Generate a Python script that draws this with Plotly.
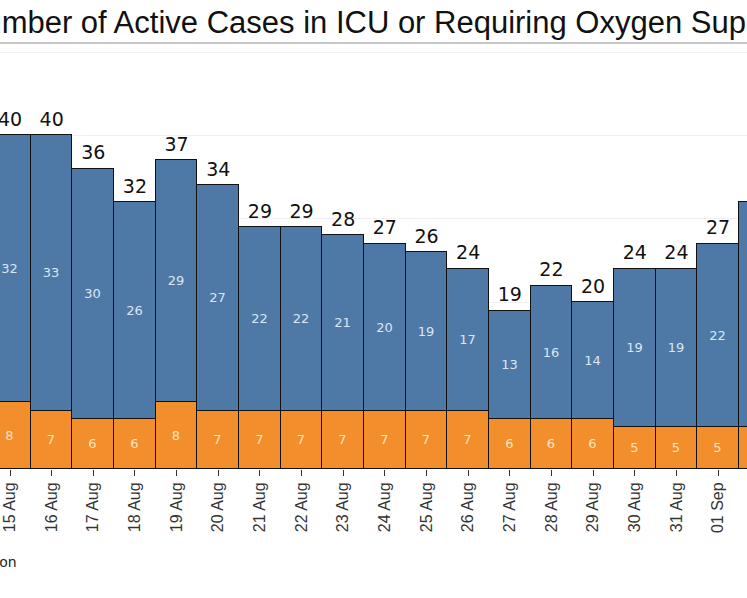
import plotly.graph_objects as go

dates = ["15 Aug", "16 Aug", "17 Aug", "18 Aug", "19 Aug", "20 Aug", "21 Aug", "22 Aug",
         "23 Aug", "24 Aug", "25 Aug", "26 Aug", "27 Aug", "28 Aug", "29 Aug", "30 Aug",
         "31 Aug", "01 Sep", "02 Sep"]
oxygen = [32, 33, 30, 26, 29, 27, 22, 22, 21, 20, 19, 17, 13, 16, 14, 19, 19, 22, 27]
icu = [8, 7, 6, 6, 8, 7, 7, 7, 7, 7, 7, 7, 6, 6, 6, 5, 5, 5, 5]
totals = [o + i for o, i in zip(oxygen, icu)]

title_text = "Number of Active Cases in ICU or Requiring Oxygen Supplementation"
legend_text = "Requiring Oxygen Supplementation"

BLUE = "#4e79a7"
ORANGE = "#f28e2b"
W, H = 747, 598
T, B = 47, 129
PH = H - T - B
LABEL_FONT = "DejaVu Sans, Verdana, sans-serif"

fig = go.Figure()
fig.add_trace(go.Bar(
    x=dates, y=icu, name="In ICU",
    marker=dict(color=ORANGE, line=dict(color="#111111", width=1)),
    text=icu, textposition="inside", insidetextanchor="middle", textangle=0,
    textfont=dict(size=13, color="#fde2c2", family=LABEL_FONT),
    constraintext="none",
))
fig.add_trace(go.Bar(
    x=dates, y=oxygen, name="Requiring Oxygen Supplementation",
    marker=dict(color=BLUE, line=dict(color="#111111", width=1)),
    text=oxygen, textposition="inside", insidetextanchor="middle", textangle=0,
    textfont=dict(size=13, color="#dbe6f1", family=LABEL_FONT),
    constraintext="none",
))
fig.add_trace(go.Scatter(
    x=dates, y=totals, mode="markers+text", text=totals, textposition="top center",
    marker=dict(size=6, color="rgba(0,0,0,0)"),
    textfont=dict(size=19, color="#111111", family=LABEL_FONT),
    hoverinfo="skip", cliponaxis=False,
))

annotations = [
    dict(text=title_text, xref="paper", yref="paper",
         x=-40 / W, y=1 + (T - 22) / PH, xanchor="left", yanchor="middle",
         showarrow=False,
         font=dict(size=31, color="#111111", family="Liberation Sans, Arial")),
    dict(text=legend_text, xref="paper", yref="paper",
         x=19 / W, y=-(562 - (H - B)) / PH, xanchor="right", yanchor="middle",
         showarrow=False,
         font=dict(size=14, color="#222222", family=LABEL_FONT)),
]

fig.update_layout(
    width=W, height=H,
    margin=dict(l=0, r=0, t=T, b=B),
    barmode="stack", bargap=0,
    showlegend=False,
    plot_bgcolor="white", paper_bgcolor="white",
    xaxis=dict(
        type="category", range=[-0.24, 17.695],
        tickangle=-90, ticks="outside", ticklen=6, tickcolor="#333333",
        tickfont=dict(size=16, color="#333333", family="Liberation Sans, Arial"),
        showgrid=False, zeroline=False, showline=False,
    ),
    yaxis=dict(
        range=[0, 50.6], dtick=10, showticklabels=False,
        showgrid=True, gridcolor="#f0f0f0", zeroline=False, showline=False,
    ),
    annotations=annotations,
    shapes=[
        dict(type="line", xref="paper", yref="paper", x0=0, x1=1,
             y0=1 + (T - 43) / PH, y1=1 + (T - 43) / PH,
             line=dict(color="#c8c8c8", width=2)),
    ],
)

fig.write_html("out.html",
               config={"displayModeBar": False},
               post_script="document.body.style.margin='0';document.body.style.overflow='hidden';")
